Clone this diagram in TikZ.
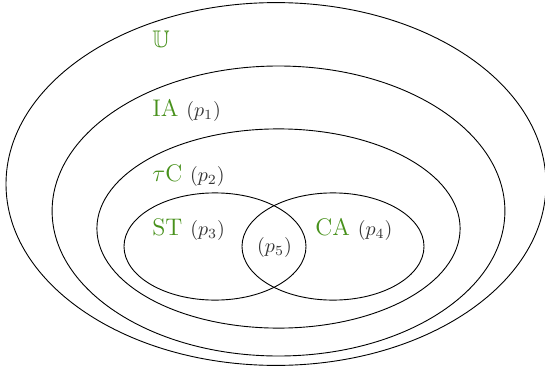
\documentclass[tikz,border=0pt]{standalone}
\usepackage{amssymb}
\definecolor{lblgreen}{RGB}{72,145,28}
\begin{document}
\begin{tikzpicture}[x=0.5pt,y=-0.5pt,
  setline/.style={draw=black, line width=0.45pt},
  setlabel/.style={anchor=base west, inner sep=0pt, text=lblgreen, font=\large},
  plabel/.style={text=black!80, font=\normalsize}]
\useasboundingbox (0,0) rectangle (545,369);
\draw[setline] (276,184) ellipse [x radius=135pt, y radius=90.7pt];
\draw[setline] (278.5,211) ellipse [x radius=113.2pt, y radius=72.5pt];
\draw[setline] (278.5,228.5) ellipse [x radius=90.8pt, y radius=49.8pt];
\draw[setline] (215,246.5) ellipse [x radius=45.5pt, y radius=26.8pt];
\draw[setline] (333,246.5) ellipse [x radius=45.5pt, y radius=26.8pt];
\node[setlabel] (U) at (152,48) {$\mathbb{U}$};
\node[setlabel] (IA) at (152,117) {IA {\normalsize\color{black!80}$(p_1)$}};
\node[setlabel] (TC) at (152,181) {$\tau$C {\normalsize\color{black!80}$(p_2)$}};
\node[setlabel] (ST) at (152,235) {ST {\normalsize\color{black!80}$(p_3)$}};
\node[setlabel] (CA) at (315,235) {CA {\normalsize\color{black!80}$(p_4)$}};
\node[plabel, inner sep=0pt] (P5) at (274.5,247) {$(p_5)$};
\end{tikzpicture}
\end{document}
